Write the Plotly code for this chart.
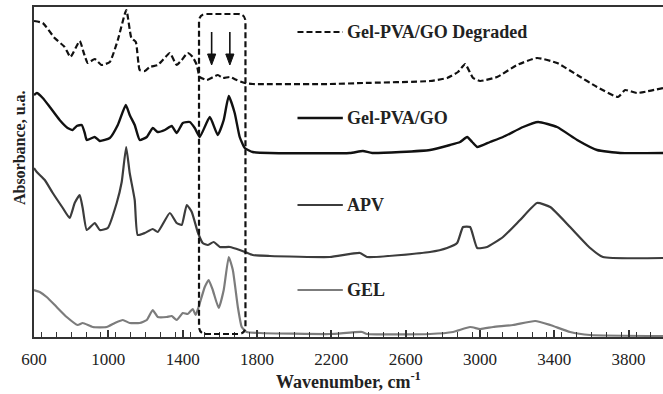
import plotly.graph_objects as go

# ---- data (wavenumber, cm-1 / absorbance, arbitrary offset units) ----
deg_x = [600, 647, 711, 765, 796, 846, 868, 889, 927, 963, 1008, 1051, 1097, 1124, 1148, 1169,
         1196, 1223, 1266, 1293, 1331, 1368, 1395, 1427, 1454, 1476, 1492, 1530, 1589, 1616,
         1654, 1691, 1734, 1777, 2192, 2370, 2731, 2823, 2882, 2920, 2963, 3001, 3092, 3200,
         3307, 3415, 3523, 3630, 3743, 3781, 3845, 3985]
deg_y = [3.16, 3.14, 2.99, 2.90, 2.80, 2.96, 2.84, 2.74, 2.78, 2.72, 2.75, 2.97, 3.27, 2.99, 2.95, 2.67,
         2.66, 2.70, 2.72, 2.77, 2.84, 2.72, 2.77, 2.84, 2.80, 2.72, 2.60, 2.57, 2.62, 2.59,
         2.60, 2.57, 2.54, 2.53, 2.53, 2.54, 2.56, 2.59, 2.65, 2.73, 2.59, 2.56, 2.60, 2.72,
         2.79, 2.74, 2.62, 2.50, 2.40, 2.47, 2.44, 2.49]

gpg_x = [600, 615, 647, 685, 738, 781, 808, 830, 857, 873, 884, 927, 954, 1008, 1051, 1094, 1115,
         1142, 1169, 1207, 1239, 1266, 1304, 1341, 1368, 1401, 1438, 1465, 1492, 1546, 1589,
         1621, 1648, 1680, 1707, 1734, 1777, 1869, 2300, 2370, 2420, 2731, 2839, 2893, 2931,
         2958, 2985, 3054, 3124, 3232, 3313, 3415, 3523, 3630, 3754, 3985]
gpg_y = [2.42, 2.44, 2.39, 2.30, 2.17, 2.09, 2.07, 2.11, 2.12, 2.04, 1.97, 2.00, 1.96, 1.99, 2.12, 2.32, 2.22,
         2.12, 1.97, 2.00, 2.09, 2.05, 2.07, 2.11, 2.04, 2.14, 2.15, 2.09, 2.00, 2.20, 2.02,
         2.17, 2.41, 2.24, 2.00, 1.89, 1.85, 1.84, 1.84, 1.86, 1.84, 1.87, 1.92, 1.95, 2.00,
         1.95, 1.90, 1.95, 2.00, 2.10, 2.15, 2.10, 1.97, 1.87, 1.84, 1.84]

apv_x = [600, 615, 658, 701, 755, 792, 819, 846, 862, 884, 927, 954, 997, 1045, 1072, 1096, 1115,
         1142, 1158, 1196, 1239, 1266, 1331, 1368, 1395, 1422, 1449, 1481, 1508, 1535, 1567,
         1600, 1654, 1707, 1777, 1869, 2192, 2354, 2392, 2731, 2823, 2877, 2909, 2947, 2985,
         3038, 3124, 3216, 3307, 3378, 3485, 3593, 3662, 3985]
apv_y = [1.69, 1.65, 1.57, 1.44, 1.29, 1.19, 1.34, 1.42, 1.29, 1.07, 1.14, 1.07, 1.09, 1.34, 1.55, 1.90, 1.64,
         1.37, 1.02, 1.04, 1.08, 1.05, 1.24, 1.14, 1.12, 1.32, 1.25, 1.05, 0.94, 0.92, 0.95,
         0.90, 0.90, 0.87, 0.82, 0.81, 0.80, 0.84, 0.80, 0.85, 0.89, 0.94, 1.10, 1.10, 0.89,
         0.90, 1.00, 1.17, 1.34, 1.30, 1.10, 0.89, 0.80, 0.79]

gel_x = [600, 631, 668, 722, 776, 835, 862, 916, 991, 1035, 1078, 1115, 1169, 1207, 1239, 1266,
         1314, 1341, 1368, 1401, 1427, 1454, 1470, 1486, 1519, 1540, 1562, 1594, 1621, 1648,
         1670, 1697, 1718, 1745, 1815, 2192, 2365, 2392, 2731, 2855, 2947, 3001, 3071, 3178,
         3297, 3378, 3485, 3593, 3985]
gel_y = [0.47, 0.45, 0.40, 0.30, 0.20, 0.12, 0.14, 0.10, 0.10, 0.14, 0.17, 0.14, 0.14, 0.17, 0.27, 0.20,
         0.20, 0.21, 0.17, 0.24, 0.23, 0.28, 0.22, 0.30, 0.50, 0.57, 0.47, 0.29, 0.47, 0.80,
         0.67, 0.30, 0.10, 0.05, 0.04, 0.03, 0.05, 0.03, 0.03, 0.05, 0.10, 0.08, 0.10, 0.12,
         0.16, 0.12, 0.05, 0.02, 0.01]

labels = ["Gel-PVA/GO Degraded", "Gel-PVA/GO", "APV", "GEL"]
label_y = [3.05, 2.19, 1.32, 0.47]
colors = ["#111111", "#111111", "#3c3c3c", "#7c7c7c"]
dashes = ["6px,3px", "solid", "solid", "solid"]
widths = [2.2, 2.4, 2.2, 2.2]
arrow_x = [1556, 1654]
x_ticks = [600, 1000, 1400, 1800, 2200, 2600, 3000, 3400, 3800]

SERIF = "Liberation Serif, Times New Roman, serif"
TXT = "#222222"

fig = go.Figure()
series = [(deg_x, deg_y), (gpg_x, gpg_y), (apv_x, apv_y), (gel_x, gel_y)]
for (xs, ys), name, c, d, w in zip(series, labels, colors, dashes, widths):
    fig.add_trace(go.Scatter(x=xs, y=ys, mode="lines", name=name,
                             line=dict(color=c, width=w, dash=d, shape="spline", smoothing=0.45),
                             showlegend=False))

# inline legend: line samples + bold labels
for name, ly, c, d, w in zip(labels, label_y, colors, dashes, widths):
    fig.add_shape(type="line", x0=2018, x1=2262, y0=ly, y1=ly, xref="x", yref="y",
                  line=dict(color=c, width=w, dash=d))
    fig.add_annotation(x=2272, y=ly, xref="x", yref="y", text=f"<b>{name}</b>",
                       showarrow=False, xanchor="left", yanchor="middle",
                       font=dict(family=SERIF, size=18, color=TXT))

# dashed rounded box around the 1490-1740 region
x0, x1, y0, y1 = 1488, 1738, 0.03, 3.23
rx, ry = 40, 0.08
path = (f"M {x0+rx},{y1} L {x1-rx},{y1} Q {x1},{y1} {x1},{y1-ry} "
        f"L {x1},{y0+ry} Q {x1},{y0} {x1-rx},{y0} L {x0+rx},{y0} "
        f"Q {x0},{y0} {x0},{y0+ry} L {x0},{y1-ry} Q {x0},{y1} {x0+rx},{y1} Z")
fig.add_shape(type="path", path=path, xref="x", yref="y",
              line=dict(color="#111", width=2.2, dash="6px,3px"))

# downward arrows (shaft + filled head)
for ax_ in arrow_x:
    fig.add_shape(type="line", x0=ax_, x1=ax_, y0=3.05, y1=2.80, xref="x", yref="y",
                  line=dict(color="#111", width=1.6))
    fig.add_shape(type="path", xref="x", yref="y",
                  path=f"M {ax_-22},2.83 L {ax_+22},2.83 L {ax_},2.72 Z",
                  fillcolor="#111", line=dict(color="#111", width=1))

# y axis title (placed as in the reference, above the plot's centre)
fig.add_annotation(x=-0.022, y=0.573, xref="paper", yref="paper",
                   text="<b>Absorbance, u.a.</b>", showarrow=False, textangle=-90,
                   xanchor="center", yanchor="middle", font=dict(family=SERIF, size=16, color=TXT))

fig.update_layout(
    width=663, height=394,
    margin=dict(l=34, r=0, t=7, b=57),
    plot_bgcolor="white", paper_bgcolor="white",
    font=dict(family=SERIF, size=16, color=TXT),
    xaxis=dict(range=[600, 3985], tickvals=x_ticks, ticks="inside", ticklen=7, tickwidth=1.5,
               tickcolor="#333", showline=True, linecolor="#333", linewidth=1.5, mirror=True,
               showgrid=False, zeroline=False, ticklabelstandoff=6,
               minor=dict(dtick=80, ticks="inside", ticklen=5, tickwidth=1.2, tickcolor="#333"),
               tickfont=dict(family=SERIF, size=17, color=TXT),
               title=dict(text="<b>Wavenumber, cm<sup>-1</sup></b>", standoff=6,
                          font=dict(family=SERIF, size=18, color=TXT))),
    yaxis=dict(range=[0, 3.30], showticklabels=False, ticks="", showline=True, linecolor="#333",
               linewidth=1.5, showgrid=False, zeroline=False),
)

fig.write_html("out.html")
